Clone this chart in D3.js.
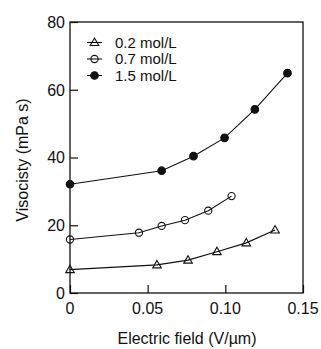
<!DOCTYPE html>
<html>
<head>
<meta charset="utf-8">
<script src="https://cdn.jsdelivr.net/npm/d3@7"></script>
<style>
  body { margin: 0; background: #fff; }
  svg text { font-family: "Liberation Sans", Arial, sans-serif; fill: #111; }
</style>
</head>
<body>
<div id="chart"></div>
<script>
const seriesNames = ['0.2 mol/L', '0.7 mol/L', '1.5 mol/L'];
const fieldLow = [0, 0.056, 0.076, 0.0946, 0.1135, 0.132];
const viscLow = [6.9, 8.3, 9.7, 12.2, 14.8, 18.6];
const fieldMid = [0, 0.0444, 0.059, 0.074, 0.089, 0.104];
const viscMid = [15.8, 17.8, 19.8, 21.5, 24.3, 28.6];
const fieldHigh = [0, 0.059, 0.0795, 0.0995, 0.119, 0.14];
const viscHigh = [32.1, 36.1, 40.4, 45.8, 54.2, 64.9];
const xTicks = [0, 0.05, 0.10, 0.15];
const yTicks = [0, 20, 40, 60, 80];

const width = 321, height = 349;
const svg = d3.select('#chart').append('svg')
  .attr('width', width).attr('height', height);

const x = d3.scaleLinear().domain([0, 0.15]).range([70, 303]);
const y = d3.scaleLinear().domain([0, 80]).range([293, 22]);

// frame
svg.append('rect')
  .attr('x', x(0)).attr('y', y(80))
  .attr('width', x(0.15) - x(0)).attr('height', y(0) - y(80))
  .attr('fill', 'none').attr('stroke', '#111').attr('stroke-width', 1.3);

// axes with inward ticks
svg.append('g')
  .attr('transform', `translate(0,${y(0)})`)
  .call(d3.axisTop(x).tickValues(xTicks).tickSize(8).tickFormat(''))
  .call(g => g.select('.domain').remove())
  .call(g => g.selectAll('line').attr('stroke', '#111').attr('stroke-width', 1.2));

svg.append('g')
  .attr('transform', `translate(${x(0)},0)`)
  .call(d3.axisRight(y).tickValues(yTicks).tickSize(8).tickFormat(''))
  .call(g => g.select('.domain').remove())
  .call(g => g.selectAll('line').attr('stroke', '#111').attr('stroke-width', 1.2));

// tick labels
svg.append('g').selectAll('text')
  .data(xTicks).enter().append('text')
  .attr('x', d => x(d)).attr('y', 314)
  .attr('text-anchor', 'middle')
  .style('font-size', '16px')
  .text(d => d === 0 ? '0' : d.toFixed(2));

svg.append('g').selectAll('text')
  .data(yTicks).enter().append('text')
  .attr('x', 65).attr('y', d => y(d))
  .attr('dy', '0.36em')
  .attr('text-anchor', 'end')
  .style('font-size', '16px')
  .text(d => d);

// axis titles
svg.append('text')
  .attr('x', 187).attr('y', 344)
  .attr('text-anchor', 'middle')
  .style('font-size', '16px')
  .text('Electric field (V/\u00b5m)');

svg.append('text')
  .attr('transform', 'translate(28,160) rotate(-90)')
  .attr('text-anchor', 'middle')
  .style('font-size', '16px')
  .text('Visocisty (mPa s)');

const series = [
  { name: seriesNames[0], xs: fieldLow, ys: viscLow, marker: 'triangle' },
  { name: seriesNames[1], xs: fieldMid, ys: viscMid, marker: 'circle' },
  { name: seriesNames[2], xs: fieldHigh, ys: viscHigh, marker: 'dot' }
];

const line = d3.line().x(d => x(d[0])).y(d => y(d[1]));

function drawMarker(g, type, cx, cy) {
  if (type === 'triangle') {
    g.append('path')
      .attr('d', d3.symbol().type(d3.symbolTriangle).size(32)())
      .attr('transform', `translate(${cx},${cy + 0.5})`)
      .attr('fill', 'none').attr('stroke', '#111').attr('stroke-width', 1.1);
  } else {
    g.append('circle')
      .attr('cx', cx).attr('cy', cy).attr('r', type === 'dot' ? 3.8 : 3.6)
      .attr('fill', type === 'dot' ? '#111' : 'none')
      .attr('stroke', '#111').attr('stroke-width', 1.1);
  }
}

series.forEach(s => {
  const pts = s.xs.map((v, i) => [v, s.ys[i]]);
  svg.append('path')
    .attr('d', line(pts))
    .attr('fill', 'none').attr('stroke', '#111').attr('stroke-width', 1.1);
  const g = svg.append('g');
  pts.forEach(p => drawMarker(g, s.marker, x(p[0]), y(p[1])));
});

// legend
const legendY = [42.5, 59, 75.5];
series.forEach((s, i) => {
  const g = svg.append('g');
  g.append('line')
    .attr('x1', 87).attr('x2', 102)
    .attr('y1', legendY[i]).attr('y2', legendY[i])
    .attr('stroke', '#111').attr('stroke-width', 1.1);
  drawMarker(g, s.marker, 94.5, legendY[i]);
  g.append('text')
    .attr('x', 115).attr('y', legendY[i])
    .attr('dy', '0.36em')
    .style('font-size', '15px')
    .text(s.name);
});
</script>
</body>
</html>
